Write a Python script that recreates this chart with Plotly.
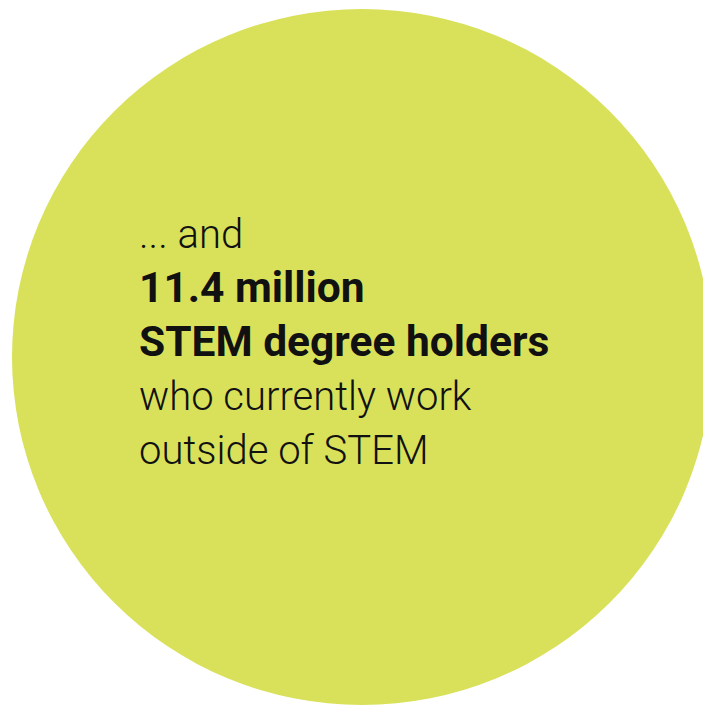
import plotly.graph_objects as go

# ---- content ----
text_lines = ["... and", "11.4 million", "STEM degree holders", "who currently work", "outside of STEM"]
line_bold = [False, True, True, False, False]

# ---- style / layout constants ----
W, H = 703, 705
CIRCLE_COLOR = "#D9E15B"
CX, CY, RX, RY = 362, 357, 350, 348
TEXT_X = 137
FIRST_BASELINE = 247
LINE_STEP = 54
FONT_SIZE_REG = 40
FONT_SIZE_BOLD = 42.5
FONT_FAMILY = "Roboto, Liberation Sans, sans-serif"

fig = go.Figure()

fig.add_shape(
    type="circle", xref="x", yref="y",
    x0=CX - RX, x1=CX + RX, y0=CY - RY, y1=CY + RY,
    fillcolor=CIRCLE_COLOR, line=dict(width=0), layer="below",
)

for i, (txt, bold) in enumerate(zip(text_lines, line_bold)):
    baseline = FIRST_BASELINE + i * LINE_STEP
    size = FONT_SIZE_BOLD if bold else FONT_SIZE_REG
    fig.add_annotation(
        x=TEXT_X, y=baseline - 0.32 * size, xref="x", yref="y",
        text=f"<b>{txt}</b>" if bold else txt,
        showarrow=False, xanchor="left", yanchor="middle",
        font=dict(family=FONT_FAMILY, size=size, color="#111111",
                  weight=700 if bold else 300),
    )

fig.update_layout(
    width=W, height=H,
    margin=dict(l=0, r=0, t=0, b=0),
    paper_bgcolor="white", plot_bgcolor="white",
    showlegend=False,
    xaxis=dict(range=[0, W], visible=False, fixedrange=True),
    yaxis=dict(range=[H, 0], visible=False, fixedrange=True),
)

fig.write_html(
    "out.html",
    config={"displayModeBar": False},
    post_script="document.body.style.margin='0';document.body.style.overflow='hidden';",
)
